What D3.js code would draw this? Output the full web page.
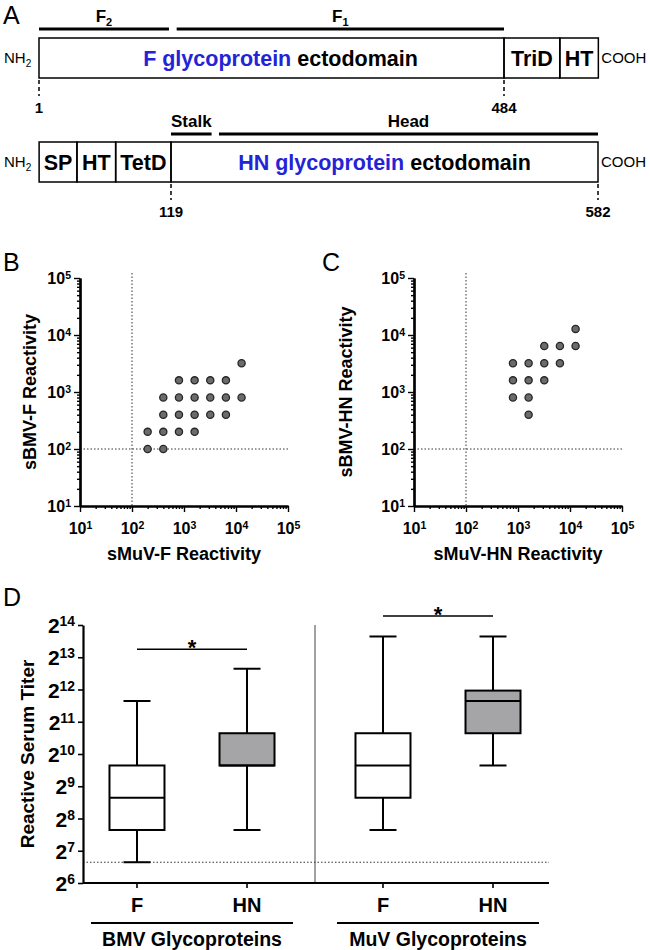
<!DOCTYPE html>
<html>
<head>
<meta charset="utf-8">
<title>BMV / MuV glycoprotein reactivity</title>
<script src="https://d3js.org/d3.v7.min.js"></script>
<style>
body { margin: 0; background: #fff; }
svg text { font-family: "Liberation Sans", Arial, sans-serif; }
.axis path, .axis line { stroke: #000; }
</style>
</head>
<body>
<script>
// ---------- data ----------
// panel A : construct layout, in (notional) residue numbers
var fSegments = [
  {label: "ectodomain", blue: "F glycoprotein", start: 1, end: 484},
  {label: "TriD", start: 484, end: 542},
  {label: "HT", start: 542, end: 582}
];
var fBars = [{label: "F", sub: "2", start: 1, end: 136}, {label: "F", sub: "1", start: 144, end: 484}];
var fMarks = [1, 484];

var hnSegments = [
  {label: "SP", start: -24, end: 17},
  {label: "HT", start: 17, end: 59},
  {label: "TetD", start: 59, end: 119},
  {label: "ectodomain", blue: "HN glycoprotein", start: 119, end: 582}
];
var hnBars = [{label: "Stalk", start: 119, end: 163}, {label: "Head", start: 171, end: 582}];
var hnMarks = [119, 582];

// panels B, C : [sMuV reactivity, sBMV reactivity]
var scatterF = [[200,100],[400,100],[200,200],[400,200],[800,200],[1600,200],
  [400,400],[800,400],[1600,400],[3200,400],[6400,400],
  [400,800],[800,800],[1600,800],[3200,800],[6400,800],[12800,800],
  [800,1600],[1600,1600],[3200,1600],[6400,1600],[12800,3200]];
var scatterHN = [[1600,400],[800,800],[1600,800],[800,1600],[1600,1600],[3200,1600],
  [800,3200],[1600,3200],[3200,3200],[6400,3200],[3200,6400],[6400,6400],[12800,6400],[12800,12800]];
var decadeExps = [1, 2, 3, 4, 5];
var cutoff = 100;

// panel D : box plots
var groupNames = ["BMV Glycoproteins", "MuV Glycoproteins"];
var proteins = ["F", "HN"];
var boxGroup = ["BMV Glycoproteins", "BMV Glycoproteins", "MuV Glycoproteins", "MuV Glycoproteins"];
var boxProtein = ["F", "HN", "F", "HN"];
var boxMin = [100, 200, 200, 800];
var boxQ1  = [200, 800, 400, 1600];
var boxMed = [400, 800, 800, 3200];
var boxQ3  = [800, 1600, 1600, 4000];
var boxMax = [3200, 6400, 12800, 12800];
var log2Exps = [6, 7, 8, 9, 10, 11, 12, 13, 14];
var sigExp = [13.25, 14.28];

var blue = "#2424d6";
var W = 650, H = 950;
var svg = d3.select("body").append("svg").attr("width", W).attr("height", H);
svg.append("rect").attr("width", W).attr("height", H).attr("fill", "#fff");

function panelLetter(t, x, y) {
  svg.append("text").attr("x", x).attr("y", y).attr("font-size", 25).text(t);
}

// ---------- panel A ----------
var fScale = d3.scaleLinear().domain([1, 484]).range([39, 504]);
var hnScale = d3.scaleLinear().domain([119, 582]).range([171, 598]);

function construct(scale, segs, bars, marks, top, barY, textDx) {
  var g = svg.append("g");
  var boxH = 40;
  g.selectAll("rect").data(segs).enter().append("rect")
    .attr("x", function(d) { return scale(d.start); })
    .attr("y", top)
    .attr("width", function(d) { return scale(d.end) - scale(d.start); })
    .attr("height", boxH)
    .attr("fill", "none").attr("stroke", "#000").attr("stroke-width", 1.5);
  g.selectAll("text.seg").data(segs).enter().append("text")
    .attr("class", "seg")
    .attr("x", function(d) { return (scale(d.start) + scale(d.end)) / 2 + (d.blue ? textDx : 0); })
    .attr("y", top + boxH / 2 + 7.5)
    .attr("text-anchor", "middle").attr("font-weight", "bold").attr("font-size", 21.5)
    .each(function(d) {
      var t = d3.select(this);
      if (d.blue) t.append("tspan").attr("fill", blue).text(d.blue + " ");
      t.append("tspan").text(d.label);
    });
  // bars on top
  g.selectAll("line.bar").data(bars).enter().append("line")
    .attr("x1", function(d) { return scale(d.start); })
    .attr("x2", function(d) { return scale(d.end); })
    .attr("y1", barY).attr("y2", barY)
    .attr("stroke", "#000").attr("stroke-width", 3);
  g.selectAll("text.bar").data(bars).enter().append("text")
    .attr("x", function(d) { return (scale(d.start) + scale(d.end)) / 2; })
    .attr("y", barY - 7)
    .attr("text-anchor", "middle").attr("font-weight", "bold").attr("font-size", 17)
    .each(function(d) {
      var t = d3.select(this);
      t.append("tspan").text(d.label);
      if (d.sub) t.append("tspan").attr("dy", 4).attr("font-size", 11).text(d.sub);
    });
  // residue marks
  g.selectAll("line.mark").data(marks).enter().append("line")
    .attr("x1", scale).attr("x2", scale)
    .attr("y1", top + boxH + 2).attr("y2", top + boxH + 18)
    .attr("stroke", "#000").attr("stroke-width", 1.5).attr("stroke-dasharray", "4,3");
  g.selectAll("text.mark").data(marks).enter().append("text")
    .attr("x", scale).attr("y", top + boxH + 35)
    .attr("text-anchor", "middle").attr("font-weight", "bold").attr("font-size", 15)
    .text(function(d) { return d; });
  // termini
  var nh = g.append("text").attr("x", 4).attr("y", top + boxH / 2 + 5).attr("font-size", 15);
  nh.append("tspan").text("NH");
  nh.append("tspan").attr("dy", 4).attr("font-size", 10).text("2");
  g.append("text").attr("x", scale(segs[segs.length - 1].end) + 3)
    .attr("y", top + boxH / 2 + 5).attr("font-size", 15).text("COOH");
}

panelLetter("A", 3, 24);
construct(fScale, fSegments, fBars, fMarks, 38, 29, 9);
construct(hnScale, hnSegments, hnBars, hnMarks, 142, 134, 0);

// ---------- panels B, C ----------
function powerTicks(sel, base) {
  sel.selectAll(".tick text").each(function(d) {
    var t = d3.select(this);
    var e = Math.round(Math.log(d) / Math.log(base));
    t.append("tspan").text(base);
    t.append("tspan").attr("dy", "-0.5em").attr("font-size", "0.66em").text(e);
  });
}

function scatter(left, data, xLabel, yLabel, yLabelX) {
  var x = d3.scaleLog().domain([10, 1e5]).range([left, left + 208]);
  var y = d3.scaleLog().domain([10, 1e5]).range([506, 278]);
  var g = svg.append("g");
  var majors = decadeExps.map(function(e) { return Math.pow(10, e); });
  var minors = x.ticks().filter(function(v) { return majors.indexOf(v) < 0; });

  // cutoff lines
  g.append("line").attr("x1", x(cutoff)).attr("x2", x(cutoff))
    .attr("y1", y(1e5) - 5).attr("y2", y(10))
    .attr("stroke", "#333").attr("stroke-width", 1).attr("stroke-dasharray", "1.5,2");
  g.append("line").attr("x1", x(10)).attr("x2", x(1e5))
    .attr("y1", y(cutoff)).attr("y2", y(cutoff))
    .attr("stroke", "#333").attr("stroke-width", 1).attr("stroke-dasharray", "1.5,2");

  // axes
  var yMin = g.append("g").attr("class", "axis").attr("transform", "translate(" + left + ",0)")
    .call(d3.axisLeft(y).tickValues(minors).tickSize(3).tickSizeOuter(0).tickFormat(""));
  var yMaj = g.append("g").attr("class", "axis").attr("transform", "translate(" + left + ",0)")
    .call(d3.axisLeft(y).tickValues(majors).tickSize(6).tickSizeOuter(0).tickPadding(3).tickFormat(""));
  var xMin = g.append("g").attr("class", "axis").attr("transform", "translate(0,506)")
    .call(d3.axisBottom(x).tickValues(minors).tickSize(3).tickSizeOuter(0).tickFormat(""));
  var xMaj = g.append("g").attr("class", "axis").attr("transform", "translate(0,506)")
    .call(d3.axisBottom(x).tickValues(majors).tickSize(6).tickSizeOuter(0).tickPadding(11).tickFormat(""));
  [yMin, yMaj, xMin, xMaj].forEach(function(a) {
    a.select(".domain").attr("stroke-width", 2.2);
    a.selectAll(".tick line").attr("stroke-width", 1.4);
    a.attr("font-family", null).attr("font-size", 16).attr("font-weight", "bold");
  });
  powerTicks(yMaj, 10);
  powerTicks(xMaj, 10);
  yMaj.selectAll(".tick text").attr("dy", "0.36em");

  // points
  g.selectAll("circle").data(data).enter().append("circle")
    .attr("cx", function(d) { return x(d[0]); })
    .attr("cy", function(d) { return y(d[1]); })
    .attr("r", 3.6)
    .attr("fill", "#6b6b6b").attr("stroke", "#262626").attr("stroke-width", 1.3);

  g.append("text").attr("x", left + 104).attr("y", 560)
    .attr("text-anchor", "middle").attr("font-weight", "bold").attr("font-size", 18).text(xLabel);
  g.append("text").attr("transform", "translate(" + yLabelX + ",392) rotate(-90)")
    .attr("text-anchor", "middle").attr("dy", "0.36em")
    .attr("font-weight", "bold").attr("font-size", 18).text(yLabel);
}

panelLetter("B", 3, 271);
panelLetter("C", 322, 271);
scatter(80, scatterF, "sMuV-F Reactivity", "sBMV-F Reactivity", 30);
scatter(414, scatterHN, "sMuV-HN Reactivity", "sBMV-HN Reactivity", 346);

// ---------- panel D ----------
panelLetter("D", 3, 606);
var plotL = 83, plotR = 549;
var yD = d3.scaleLog().base(2).domain([64, 16384]).range([883, 625]);
var xGroup = d3.scaleBand().domain(groupNames).range([69, 561]);
var xProt = d3.scalePoint().domain(proteins).range([0, xGroup.bandwidth()]).padding(0.618);
function cx(i) { return xGroup(boxGroup[i]) + xProt(boxProtein[i]); }

var gD = svg.append("g");
// cutoff
gD.append("line").attr("x1", plotL).attr("x2", plotR).attr("y1", yD(cutoff)).attr("y2", yD(cutoff))
  .attr("stroke", "#333").attr("stroke-width", 1).attr("stroke-dasharray", "1.5,2");
// separator
gD.append("line").attr("x1", xGroup(groupNames[1])).attr("x2", xGroup(groupNames[1]))
  .attr("y1", yD(16384)).attr("y2", yD(64)).attr("stroke", "#444").attr("stroke-width", 1);

// y axis
var yAx = gD.append("g").attr("class", "axis").attr("transform", "translate(" + plotL + ",0)")
  .call(d3.axisLeft(yD).tickValues(log2Exps.map(function(e) { return Math.pow(2, e); }))
    .tickSize(5).tickSizeOuter(0).tickPadding(3).tickFormat(""));
yAx.select(".domain").attr("stroke-width", 2.2);
yAx.selectAll(".tick line").attr("stroke-width", 1.6);
yAx.attr("font-family", null).attr("font-size", 21).attr("font-weight", "bold");
powerTicks(yAx, 2);
yAx.selectAll(".tick text").attr("dy", "0.36em");

// x axis
gD.append("line").attr("x1", plotL).attr("x2", plotR).attr("y1", yD(64)).attr("y2", yD(64))
  .attr("stroke", "#000").attr("stroke-width", 2.2);
var idx = d3.range(boxProtein.length);
gD.selectAll("line.xt").data(idx).enter().append("line")
  .attr("x1", cx).attr("x2", cx).attr("y1", yD(64)).attr("y2", yD(64) + 5)
  .attr("stroke", "#000").attr("stroke-width", 1.6);
gD.selectAll("text.xl").data(idx).enter().append("text")
  .attr("x", cx).attr("y", 912)
  .attr("text-anchor", "middle").attr("font-weight", "bold").attr("font-size", 20)
  .text(function(i) { return boxProtein[i]; });
gD.selectAll("line.ul").data(groupNames).enter().append("line")
  .attr("x1", function(d) { return xGroup(d) + xGroup.bandwidth() / 2 - 101; })
  .attr("x2", function(d) { return xGroup(d) + xGroup.bandwidth() / 2 + 101; })
  .attr("y1", 923).attr("y2", 923).attr("stroke", "#000").attr("stroke-width", 2);
gD.selectAll("text.gl").data(groupNames).enter().append("text")
  .attr("x", function(d) { return xGroup(d) + xGroup.bandwidth() / 2; })
  .attr("y", 946)
  .attr("text-anchor", "middle").attr("font-weight", "bold").attr("font-size", 19.5)
  .text(function(d) { return d; });

// boxes
var bw = 55, cap = 27;
var boxes = gD.selectAll("g.box").data(idx).enter().append("g");
boxes.append("line")
  .attr("x1", cx).attr("x2", cx)
  .attr("y1", function(i) { return yD(boxMax[i]); }).attr("y2", function(i) { return yD(boxMin[i]); })
  .attr("stroke", "#000").attr("stroke-width", 2);
boxes.append("rect")
  .attr("x", function(i) { return cx(i) - bw / 2; })
  .attr("y", function(i) { return yD(boxQ3[i]); })
  .attr("width", bw)
  .attr("height", function(i) { return yD(boxQ1[i]) - yD(boxQ3[i]); })
  .attr("fill", function(i) { return boxProtein[i] === "HN" ? "#a5a5a7" : "#fff"; })
  .attr("stroke", "#000").attr("stroke-width", 2);
boxes.append("line")
  .attr("x1", function(i) { return cx(i) - bw / 2; }).attr("x2", function(i) { return cx(i) + bw / 2; })
  .attr("y1", function(i) { return yD(boxMed[i]); }).attr("y2", function(i) { return yD(boxMed[i]); })
  .attr("stroke", "#000").attr("stroke-width", 2);
[boxMin, boxMax].forEach(function(arr) {
  boxes.append("line")
    .attr("x1", function(i) { return cx(i) - cap / 2; }).attr("x2", function(i) { return cx(i) + cap / 2; })
    .attr("y1", function(i) { return yD(arr[i]); }).attr("y2", function(i) { return yD(arr[i]); })
    .attr("stroke", "#000").attr("stroke-width", 2);
});

// significance
groupNames.forEach(function(gname, k) {
  var x1 = xGroup(gname) + xProt("F"), x2 = xGroup(gname) + xProt("HN");
  var sy = yD(Math.pow(2, sigExp[k]));
  gD.append("line").attr("x1", x1).attr("x2", x2).attr("y1", sy).attr("y2", sy)
    .attr("stroke", "#000").attr("stroke-width", 1.6);
  gD.append("text").attr("x", (x1 + x2) / 2).attr("y", sy + 6)
    .attr("text-anchor", "middle").attr("font-weight", "bold").attr("font-size", 22).text("*");
});

// y label
gD.append("text").attr("transform", "translate(27,754) rotate(-90)")
  .attr("text-anchor", "middle").attr("dy", "0.36em")
  .attr("font-weight", "bold").attr("font-size", 19).text("Reactive Serum Titer");
</script>
</body>
</html>
